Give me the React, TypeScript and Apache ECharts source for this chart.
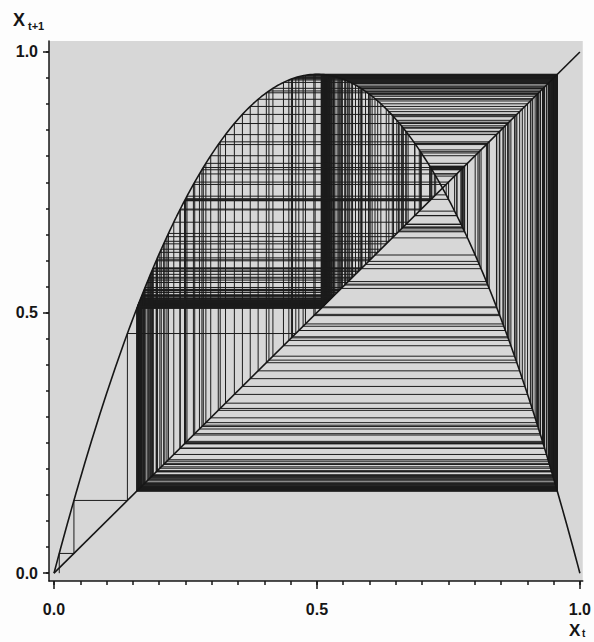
import { useEffect, useRef } from "react";
import * as echarts from "echarts";

// Logistic map x -> r·x·(1 − x), iterated just below the period-3 window
const GROWTH_RATE = 3.8282;
const START_X = 0.01;
const STEPS = 400;

// Axis ticks and labels
const MAJOR_TICKS = [0, 0.5, 1];
const MINOR_TICKS = [
  0, 0.05, 0.1, 0.15, 0.2, 0.25, 0.3, 0.35, 0.4, 0.45, 0.5,
  0.55, 0.6, 0.65, 0.7, 0.75, 0.8, 0.85, 0.9, 0.95, 1,
];
const TICK_LABELS = ["0.0", "0.5", "1.0"];
const CURVE_SAMPLES = 240;

const logistic = (x: number) => GROWTH_RATE * x * (1 - x);

function parabola(): number[][] {
  const pts: number[][] = [];
  for (let i = 0; i <= CURVE_SAMPLES; i++) {
    const x = i / CURVE_SAMPLES;
    pts.push([x, logistic(x)]);
  }
  return pts;
}

function cobweb(): number[][] {
  let x = START_X;
  const pts: number[][] = [[x, 0], [x, logistic(x)]];
  for (let i = 0; i < STEPS; i++) {
    const next = logistic(x);
    pts.push([next, next]);
    pts.push([next, logistic(next)]);
    x = next;
  }
  return pts;
}

const INK = "#161616";
const labelFont = {
  fontFamily: "Liberation Sans, Arial, sans-serif",
  fontWeight: "bold" as const,
  fontSize: 16,
  color: INK,
};
const tickLabel = (v: number) => {
  const i = MAJOR_TICKS.findIndex((t) => Math.abs(t - v) < 1e-9);
  return i >= 0 ? TICK_LABELS[i] : "";
};

export default function App() {
  const ref = useRef<HTMLDivElement>(null);
  useEffect(() => {
    if (!ref.current) return;
    const chart = echarts.init(ref.current, undefined, { renderer: "svg" });
    const axisBase = (min: number, max: number) => ({
      type: "value" as const,
      min,
      max,
      splitLine: { show: false },
      axisLine: { show: true, onZero: false, lineStyle: { color: INK, width: 1.5 } },
    });
    chart.setOption({
      animation: false,
      backgroundColor: "#fdfdfd",
      grid: {
        left: 49,
        right: 11,
        top: 41,
        bottom: 61,
        show: true,
        backgroundColor: "#d7d7d7",
        borderWidth: 0,
      },
      xAxis: [
        {
          ...axisBase(-0.0095, 1.0055),
          position: "bottom",
          axisTick: { show: true, customValues: MAJOR_TICKS, length: 8, lineStyle: { color: INK, width: 1.5 } },
          axisLabel: { ...labelFont, customValues: MAJOR_TICKS, margin: 20, formatter: tickLabel },
        },
        {
          ...axisBase(-0.0095, 1.0055),
          position: "bottom",
          axisLine: { show: false, onZero: false },
          axisTick: { show: true, customValues: MINOR_TICKS, length: 4, lineStyle: { color: INK, width: 1.5 } },
          axisLabel: { show: false },
        },
      ],
      yAxis: [
        {
          ...axisBase(-0.015, 1.021),
          position: "left",
          axisTick: { show: true, customValues: MAJOR_TICKS, length: 6, lineStyle: { color: INK, width: 1.5 } },
          axisLabel: { ...labelFont, customValues: MAJOR_TICKS, margin: 11, formatter: tickLabel },
        },
        {
          ...axisBase(-0.015, 1.021),
          position: "left",
          axisLine: { show: false, onZero: false },
          axisTick: { show: true, customValues: MINOR_TICKS, length: 3, lineStyle: { color: INK, width: 1.5 } },
          axisLabel: { show: false },
        },
      ],
      graphic: [
        { type: "text", left: 13, top: 11, style: { text: "X", ...labelFont, fontSize: 18, fill: INK } },
        { type: "text", left: 28, top: 20, style: { text: "t+1", ...labelFont, fontSize: 11, fill: INK } },
        { type: "text", left: 569, top: 622, style: { text: "X", ...labelFont, fontSize: 17, fill: INK } },
        { type: "text", left: 582, top: 628, style: { text: "t", ...labelFont, fontSize: 10, fill: INK } },
      ],
      series: [
        {
          type: "line",
          name: "cobweb",
          data: cobweb(),
          xAxisIndex: 0,
          yAxisIndex: 0,
          showSymbol: false,
          symbol: "none",
          lineStyle: { color: "#1c1c1c", width: 1 },
          silent: true,
        },
        {
          type: "line",
          name: "diagonal",
          data: [[0, 0], [1, 1]],
          xAxisIndex: 0,
          yAxisIndex: 0,
          showSymbol: false,
          symbol: "none",
          lineStyle: { color: INK, width: 1.6 },
          silent: true,
        },
        {
          type: "line",
          name: "map",
          data: parabola(),
          xAxisIndex: 0,
          yAxisIndex: 0,
          showSymbol: false,
          symbol: "none",
          lineStyle: { color: INK, width: 1.6 },
          silent: true,
        },
      ],
    });
    return () => chart.dispose();
  }, []);
  return (
    <div
      ref={ref}
      style={{ position: "fixed", left: 0, top: 0, width: 594, height: 642 }}
    />
  );
}
